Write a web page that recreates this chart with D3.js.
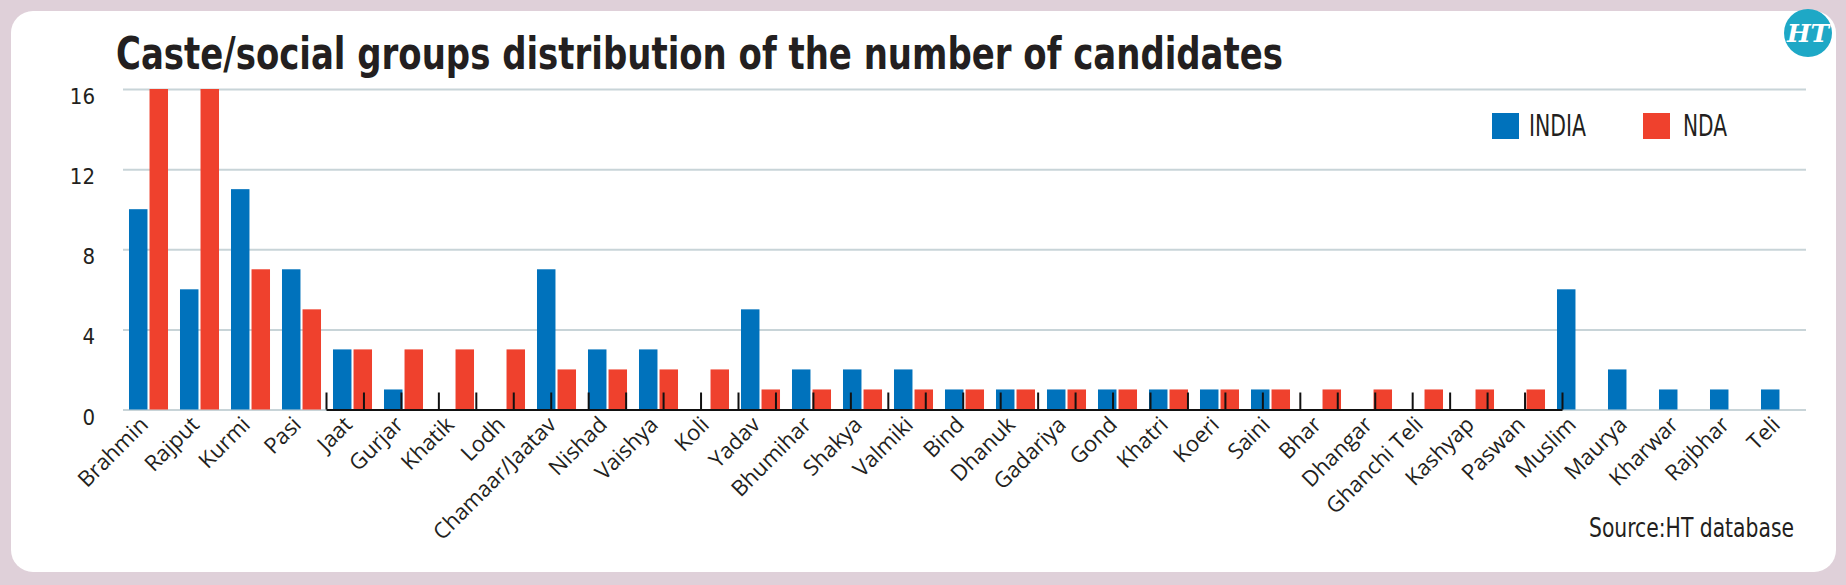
<!DOCTYPE html>
<html>
<head>
<meta charset="utf-8">
<script src="https://cdn.jsdelivr.net/npm/d3@7"></script>
<style>
  html, body { margin: 0; padding: 0; background: #dfd0d9; }
  svg { display: block; }
  .narrow { font-family: "Liberation Sans Narrow", "DejaVu Sans Condensed", "DejaVu Sans", sans-serif; font-stretch: condensed; }
</style>
</head>
<body>
<svg width="1846" height="585"></svg>
<script>
// groups on the x axis, in the order of the chart
let categories = ['Brahmin', 'Rajput', 'Kurmi', 'Pasi', 'Jaat', 'Gurjar', 'Khatik', 'Lodh',
    'Chamaar/Jaatav', 'Nishad', 'Vaishya', 'Koli', 'Yadav', 'Bhumihar', 'Shakya', 'Valmiki',
    'Bind', 'Dhanuk', 'Gadariya', 'Gond', 'Khatri', 'Koeri', 'Saini', 'Bhar', 'Dhangar',
    'Ghanchi Teli', 'Kashyap', 'Paswan', 'Muslim', 'Maurya', 'Kharwar', 'Rajbhar', 'Teli'];
let indiaValues = [10, 6, 11, 7, 3, 1, 0, 0, 7, 3, 3, 0, 5, 2, 2, 2, 1, 1, 1, 1, 1, 1, 1, 0, 0, 0, 0, 0, 6, 2, 1, 1, 1];
let ndaValues = [16, 16, 7, 5, 3, 3, 3, 3, 2, 2, 2, 2, 1, 1, 1, 1, 1, 1, 1, 1, 1, 1, 1, 1, 1, 1, 1, 1, 0, 0, 0, 0, 0];
let seriesNames = ['INDIA', 'NDA'];
let yTicks = [0, 4, 8, 12, 16];

let colors = { INDIA: '#0072bc', NDA: '#ef412d' };
let svg = d3.select('svg');

// card
svg.append('rect')
    .attr('x', 11).attr('y', 11)
    .attr('width', 1825).attr('height', 561)
    .attr('rx', 22)
    .attr('fill', '#fff');

svg.append('text')
    .attr('class', 'narrow')
    .attr('x', 116).attr('y', 69)
    .attr('font-size', 45)
    .attr('font-weight', 'bold')
    .attr('fill', '#231f20')
    .attr('textLength', 1167)
    .attr('lengthAdjust', 'spacingAndGlyphs')
    .text('Caste/social groups distribution of the number of candidates');

// HT logo
let logo = svg.append('g').attr('transform', 'translate(1808, 33)');
logo.append('circle').attr('r', 24).attr('fill', '#1ea8c6');
logo.append('text')
    .attr('text-anchor', 'middle')
    .attr('y', 9)
    .attr('font-family', '"DejaVu Serif", serif')
    .attr('font-weight', 'bold')
    .attr('font-style', 'italic')
    .attr('font-size', 25)
    .attr('fill', '#fff')
    .text('HT');

let x0 = d3.scaleBand().domain(categories).range([123, 1806]).paddingInner(0.235).paddingOuter(0.1175);
let x1 = d3.scaleBand().domain(seriesNames).range([0, x0.bandwidth()]).paddingInner(0.1);
let y = d3.scaleLinear().domain([0, 16]).range([409.5, 89]);

// gridlines and y labels
let yAxis = svg.append('g')
    .attr('transform', 'translate(123, 0)')
    .call(d3.axisLeft(y).tickValues(yTicks).tickSize(-(1806 - 123)).tickPadding(28));
yAxis.select('.domain').remove();
yAxis.selectAll('.tick line').attr('stroke', '#c8d4d8').attr('stroke-width', 2);
yAxis.selectAll('.tick text')
    .attr('class', 'narrow')
    .attr('font-size', 22)
    .attr('fill', '#231f20')
    .attr('dy', 14.5);

// bars
let rows = categories.map((c, i) => ({ cat: c, INDIA: indiaValues[i], NDA: ndaValues[i] }));
svg.append('g')
    .selectAll('g')
    .data(rows)
    .join('g')
    .attr('transform', d => `translate(${x0(d.cat)}, 0)`)
    .selectAll('rect')
    .data(d => seriesNames.map(k => ({ key: k, value: d[k] })).filter(d => d.value > 0))
    .join('rect')
    .attr('x', d => x1(d.key))
    .attr('y', d => y(d.value))
    .attr('width', x1.bandwidth())
    .attr('height', d => y(0) - y(d.value))
    .attr('fill', d => colors[d.key]);

// the black tick strip sitting on the baseline
let stripScale = d3.scaleLinear().domain([0, categories.length]).range([326, 1562]);
let strip = svg.append('g')
    .attr('transform', `translate(0, ${y(0)})`)
    .call(d3.axisTop(stripScale).tickValues(d3.range(categories.length + 1)).tickSize(17).tickSizeOuter(0).tickFormat(''));
strip.select('.domain').attr('stroke', '#111').attr('stroke-width', 2.2);
strip.selectAll('.tick line').attr('stroke', '#111').attr('stroke-width', 2);

// category labels
svg.append('g')
    .selectAll('text')
    .data(categories)
    .join('text')
    .attr('transform', d => `translate(${x0(d) + x0.bandwidth() / 2 + 1}, 426) rotate(-45)`)
    .attr('text-anchor', 'end')
    .attr('font-family', '"Open Sans", sans-serif')
    .attr('font-size', 22)
    .attr('fill', '#231f20')
    .text(d => d);

// legend
let legend = svg.append('g')
    .selectAll('g')
    .data(seriesNames)
    .join('g')
    .attr('transform', (d, i) => `translate(${1492 + i * 151}, 113)`);
legend.append('rect')
    .attr('width', 27).attr('height', 26)
    .attr('fill', d => colors[d]);
legend.append('text')
    .attr('class', 'narrow')
    .attr('x', d => d === 'INDIA' ? 37 : 40)
    .attr('y', 23)
    .attr('font-size', 30)
    .attr('fill', '#231f20')
    .attr('textLength', d => d === 'INDIA' ? 57 : 44)
    .attr('lengthAdjust', 'spacingAndGlyphs')
    .text(d => d);

svg.append('text')
    .attr('class', 'narrow')
    .attr('x', 1794).attr('y', 537)
    .attr('text-anchor', 'end')
    .attr('font-size', 26)
    .attr('fill', '#231f20')
    .attr('textLength', 205)
    .attr('lengthAdjust', 'spacingAndGlyphs')
    .text('Source:HT database');
</script>
</body>
</html>
